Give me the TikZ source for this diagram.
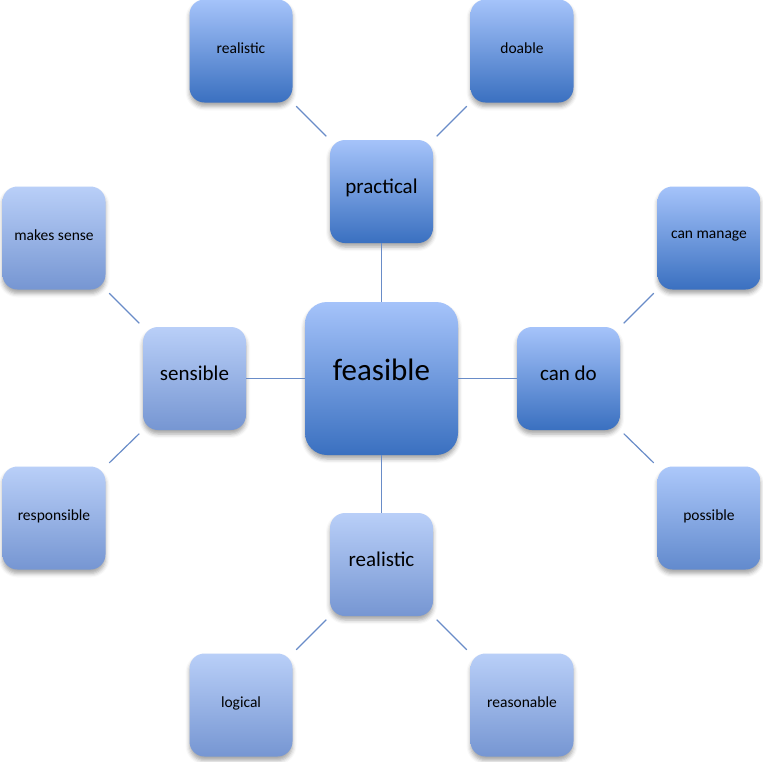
\documentclass[tikz,border=0pt]{standalone}
\usepackage{fontspec}
\setmainfont{Carlito}
\usetikzlibrary{shadows.blur}
\definecolor{topA}{RGB}{165,195,250}
\definecolor{botA}{RGB}{58,112,192}
\definecolor{topB}{RGB}{185,207,248}
\definecolor{botB}{RGB}{118,150,210}
\definecolor{topC}{RGB}{172,200,250}
\definecolor{botC}{RGB}{98,138,205}
\definecolor{linkc}{RGB}{105,140,200}
\tikzset{
  box/.style={rounded corners=15pt, minimum width=103pt, minimum height=103pt, inner sep=0pt,
    align=center, blur shadow={shadow xshift=0pt, shadow yshift=-4pt, shadow blur radius=4pt, shadow opacity=35}},
  boxA/.style={box, top color=topA, bottom color=botA},
  boxB/.style={box, top color=topB, bottom color=botB},
  boxC/.style={box, top color=topC, bottom color=botC},
  outer/.style={font=\fontsize{15.5}{18}\selectfont, text depth=6pt},
  mid/.style={font=\fontsize{21}{25}\selectfont, text depth=11pt},
  link/.style={draw=linkc, line width=1.2pt},
  diag/.style={link, shorten <=5pt, shorten >=5pt}
}
\begin{document}
\begin{tikzpicture}[x=1pt,y=-1pt]
\useasboundingbox (0,0) rectangle (763,761);
% center
\node[boxA, rounded corners=22pt, minimum width=153pt, minimum height=153pt, font=\fontsize{31}{36}\selectfont, text depth=17pt] (feas) at (381.5,378.5) {feasible};
% middle ring
\node[boxA, mid] (prac) at (381.5,191.5) {practical};
\node[boxA, mid] (cando) at (568.5,378.5) {can do};
\node[boxB, mid] (sens) at (194.5,378.5) {sensible};
\node[boxB, mid] (real2) at (381.5,564.5) {realistic};
% outer ring
\node[boxA, outer] (real1) at (241,51) {realistic};
\node[boxA, outer] (doab) at (522,51) {doable};
\node[boxA, outer] (cman) at (709,238) {can manage};
\node[boxC, outer] (poss) at (709,518) {possible};
\node[boxB, outer] (mks) at (54,238) {makes sense};
\node[boxB, outer] (resp) at (54,518) {responsible};
\node[boxB, outer] (logi) at (241,705) {logical};
\node[boxB, outer] (reas) at (522,705) {reasonable};
% links
\draw[link] (feas.north) -- (prac.south);
\draw[link] (feas.south) -- (real2.north);
\draw[link] (feas.west) -- (sens.east);
\draw[link] (feas.east) -- (cando.west);
\draw[diag] (prac.north west) -- (real1.south east);
\draw[diag] (prac.north east) -- (doab.south west);
\draw[diag] (cando.north east) -- (cman.south west);
\draw[diag] (cando.south east) -- (poss.north west);
\draw[diag] (sens.north west) -- (mks.south east);
\draw[diag] (sens.south west) -- (resp.north east);
\draw[diag] (real2.south west) -- (logi.north east);
\draw[diag] (real2.south east) -- (reas.north west);
\end{tikzpicture}
\end{document}
